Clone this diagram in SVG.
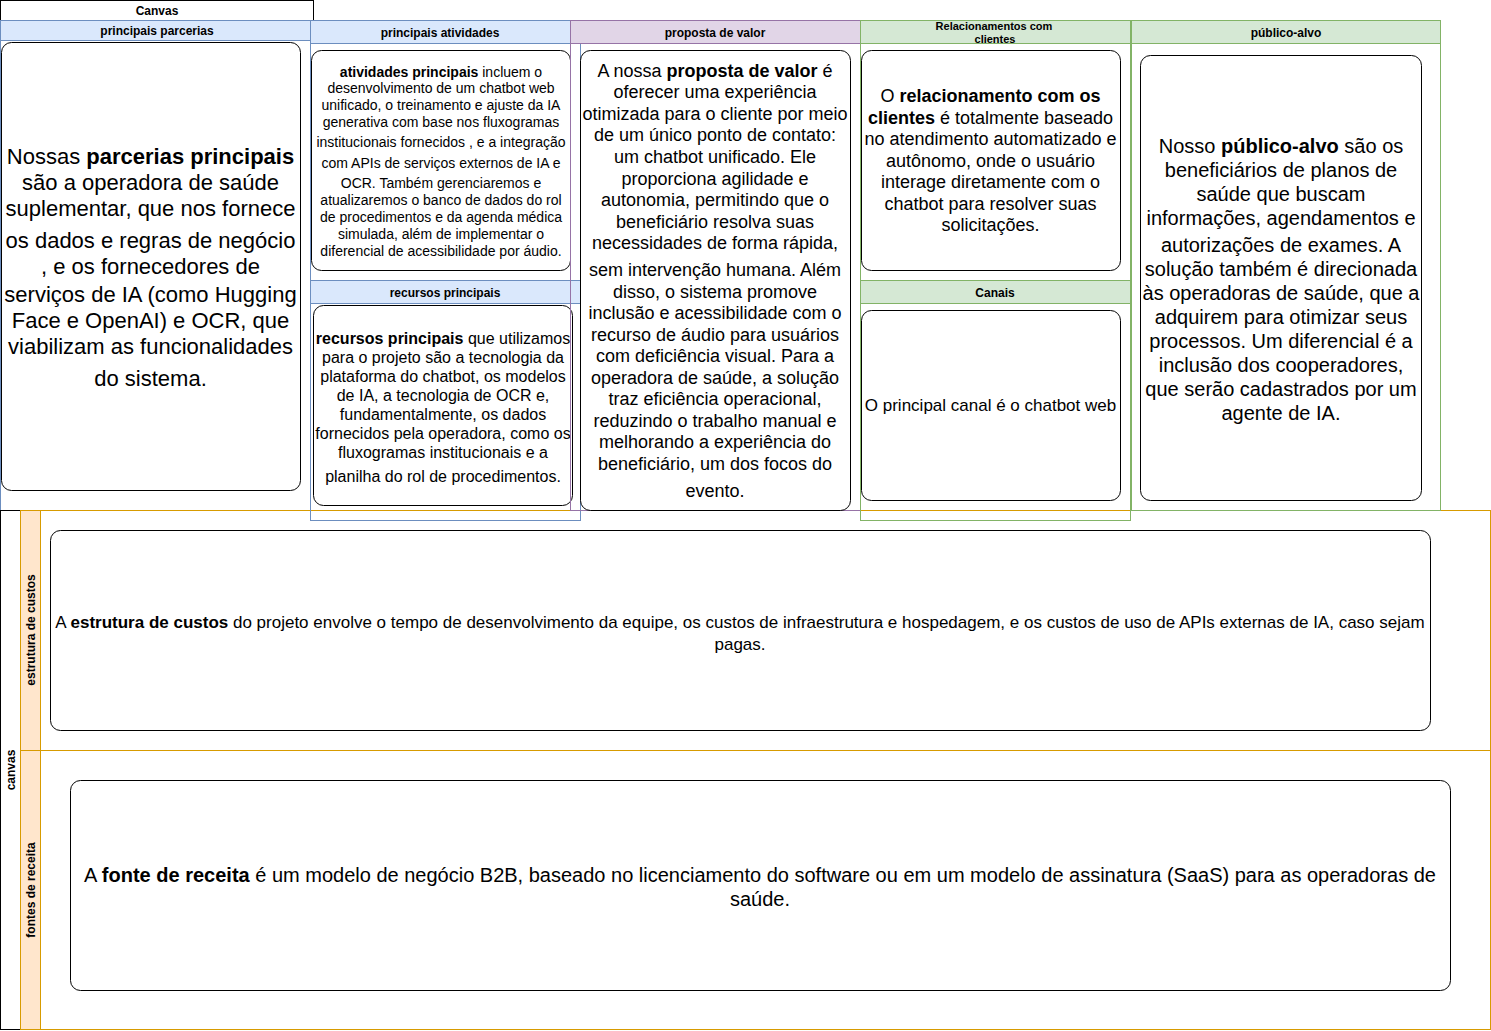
<svg xmlns="http://www.w3.org/2000/svg" width="1491" height="1031" viewBox="0 0 1491 1031">
<style>
text{font-family:"Liberation Sans",Arial,sans-serif;fill:#000;text-anchor:middle;dominant-baseline:central}
.hd{font-size:12px;font-weight:bold}
.hd11{font-size:11px;font-weight:bold}
.card{fill:#fff;stroke:#000;stroke-width:1}
.blue{fill:none;stroke:#6c8ebf}
.blueh{fill:#dae8fc;stroke:#6c8ebf}
.purp{fill:none;stroke:#9673a6}
.purph{fill:#e1d5e7;stroke:#9673a6}
.grn{fill:none;stroke:#82b366}
.grnh{fill:#d5e8d4;stroke:#82b366}
.org{fill:none;stroke:#d79b00}
.orgh{fill:#ffe6cc;stroke:#d79b00}
.b{font-weight:bold}
</style>
<rect width="1491" height="1031" fill="#fff"/>

<g id="canvas-title">
<rect x="0.5" y="0.5" width="313" height="20" fill="#fff" stroke="#000"/>
<text class="hd" x="157" y="10.5">Canvas</text>
</g>

<g id="parcerias">
<rect class="blue" x="0.5" y="20.5" width="310" height="490"/>
<rect class="blueh" x="0.5" y="20.5" width="310" height="20"/>
<text class="hd" x="157" y="30.5">principais parcerias</text>
<rect class="card" x="1.5" y="42.5" width="299" height="448" rx="10"/>
<g style="font-size:22px">
<text x="150.5" y="156">Nossas <tspan class="b">parcerias principais</tspan></text>
<text x="150.5" y="182">são a operadora de saúde</text>
<text x="150.5" y="208">suplementar, que nos fornece</text>
<text x="150.5" y="240">os dados e regras de negócio</text>
<text x="150.5" y="266">, e os fornecedores de</text>
<text x="150.5" y="294">serviços de IA (como Hugging</text>
<text x="150.5" y="320">Face e OpenAI) e OCR, que</text>
<text x="150.5" y="346">viabilizam as funcionalidades</text>
<text x="150.5" y="378">do sistema.</text>
</g>
</g>

<g id="canvas-bottom">
<rect x="0.5" y="510.5" width="1490" height="519" fill="#fff" stroke="#000"/>
<text class="hd" transform="translate(10.5,770) rotate(-90)">canvas</text>
<rect class="org" x="20.5" y="510.5" width="1470" height="240"/>
<rect class="orgh" x="20.5" y="510.5" width="20" height="240"/>
<text class="hd" transform="translate(31,630) rotate(-90)">estrutura de custos</text>
<rect class="org" x="20.5" y="750.5" width="1470" height="279"/>
<rect class="orgh" x="20.5" y="750.5" width="20" height="279"/>
<text class="hd" transform="translate(31,890) rotate(-90)">fontes de receita</text>
</g>

<g id="custos">
<rect class="card" x="50.5" y="530.5" width="1380" height="200" rx="10"/>
<g style="font-size:17px">
<text x="740" y="622">A <tspan class="b">estrutura de custos</tspan> do projeto envolve o tempo de desenvolvimento da equipe, os custos de infraestrutura e hospedagem, e os custos de uso de APIs externas de IA, caso sejam</text>
<text x="740" y="644">pagas.</text>
</g>
</g>

<g id="receita">
<rect class="card" x="70.5" y="780.5" width="1380" height="210" rx="10"/>
<g style="font-size:20px">
<text x="760" y="875">A <tspan class="b">fonte de receita</tspan> é um modelo de negócio B2B, baseado no licenciamento do software ou em um modelo de assinatura (SaaS) para as operadoras de</text>
<text x="760" y="899">saúde.</text>
</g>
</g>

<g id="atividades">
<rect class="blue" x="310.5" y="20.5" width="270" height="500"/>
<rect class="blueh" x="310.5" y="20.5" width="260" height="23"/>
<text class="hd" x="440" y="32.5">principais atividades</text>
<rect class="card" x="311.5" y="50.5" width="259" height="220" rx="10"/>
<g style="font-size:14px">
<text x="441" y="72"><tspan class="b">atividades principais</tspan> incluem o</text>
<text x="441" y="88">desenvolvimento de um chatbot web</text>
<text x="441" y="105">unificado, o treinamento e ajuste da IA</text>
<text x="441" y="122">generativa com base nos fluxogramas</text>
<text x="441" y="142">institucionais fornecidos , e a integração</text>
<text x="441" y="163">com APIs de serviços externos de IA e</text>
<text x="441" y="183">OCR. Também gerenciaremos e</text>
<text x="441" y="200">atualizaremos o banco de dados do rol</text>
<text x="441" y="217">de procedimentos e da agenda médica</text>
<text x="441" y="234">simulada, além de implementar o</text>
<text x="441" y="251">diferencial de acessibilidade por áudio.</text>
</g>
</g>

<g id="recursos">
<rect class="blueh" x="310.5" y="280.5" width="270" height="23"/>
<text class="hd" x="445" y="292.5">recursos principais</text>
<rect class="card" x="313.5" y="305.5" width="259" height="200" rx="10"/>
<g style="font-size:16px">
<text x="443" y="338"><tspan class="b">recursos principais</tspan> que utilizamos</text>
<text x="443" y="357">para o projeto são a tecnologia da</text>
<text x="443" y="376">plataforma do chatbot, os modelos</text>
<text x="443" y="395">de IA, a tecnologia de OCR e,</text>
<text x="443" y="414">fundamentalmente, os dados</text>
<text x="443" y="433">fornecidos pela operadora, como os</text>
<text x="443" y="452">fluxogramas institucionais e a</text>
<text x="443" y="476">planilha do rol de procedimentos.</text>
</g>
</g>

<g id="proposta">
<rect class="purp" x="570.5" y="20.5" width="290" height="490"/>
<rect class="purph" x="570.5" y="20.5" width="290" height="23"/>
<text class="hd" x="715" y="32.5">proposta de valor</text>
<rect class="card" x="580.5" y="50.5" width="270" height="460" rx="10"/>
<g style="font-size:18px">
<text x="715" y="71">A nossa <tspan class="b">proposta de valor</tspan> é</text>
<text x="715" y="92">oferecer uma experiência</text>
<text x="715" y="114">otimizada para o cliente por meio</text>
<text x="715" y="135">de um único ponto de contato:</text>
<text x="715" y="157">um chatbot unificado. Ele</text>
<text x="715" y="179">proporciona agilidade e</text>
<text x="715" y="200">autonomia, permitindo que o</text>
<text x="715" y="222">beneficiário resolva suas</text>
<text x="715" y="243">necessidades de forma rápida,</text>
<text x="715" y="270">sem intervenção humana. Além</text>
<text x="715" y="292">disso, o sistema promove</text>
<text x="715" y="313">inclusão e acessibilidade com o</text>
<text x="715" y="335">recurso de áudio para usuários</text>
<text x="715" y="356">com deficiência visual. Para a</text>
<text x="715" y="378">operadora de saúde, a solução</text>
<text x="715" y="399">traz eficiência operacional,</text>
<text x="715" y="421">reduzindo o trabalho manual e</text>
<text x="715" y="442">melhorando a experiência do</text>
<text x="715" y="464">beneficiário, um dos focos do</text>
<text x="715" y="491">evento.</text>
</g>
</g>

<g id="relacionamentos">
<rect class="grn" x="860.5" y="20.5" width="270" height="500"/>
<rect class="grnh" x="860.5" y="20.5" width="270" height="23"/>
<text class="hd11" x="994" y="26">Relacionamentos com</text>
<text class="hd11" x="995" y="39">clientes</text>
<rect class="card" x="861.5" y="50.5" width="259" height="220" rx="10"/>
<g style="font-size:18px">
<text x="990.5" y="96">O <tspan class="b">relacionamento com os</tspan></text>
<text x="990.5" y="118"><tspan class="b">clientes</tspan> é totalmente baseado</text>
<text x="990.5" y="139">no atendimento automatizado e</text>
<text x="990.5" y="161">autônomo, onde o usuário</text>
<text x="990.5" y="182">interage diretamente com o</text>
<text x="990.5" y="204">chatbot para resolver suas</text>
<text x="990.5" y="225">solicitações.</text>
</g>
</g>

<g id="canais">
<rect class="grnh" x="860.5" y="280.5" width="270" height="23"/>
<text class="hd" x="995" y="292.5">Canais</text>
<rect class="card" x="861.5" y="310.5" width="259" height="190" rx="10"/>
<text x="990.5" y="405" style="font-size:17px">O principal canal é o chatbot web</text>
</g>

<g id="publico">
<rect class="grn" x="1131.5" y="20.5" width="309" height="490"/>
<rect class="grnh" x="1131.5" y="20.5" width="309" height="23"/>
<text class="hd" x="1286" y="32.5">público-alvo</text>
<rect class="card" x="1140.5" y="55.5" width="281" height="445" rx="10"/>
<g style="font-size:20px">
<text x="1281" y="146">Nosso <tspan class="b">público-alvo</tspan> são os</text>
<text x="1281" y="170">beneficiários de planos de</text>
<text x="1281" y="194">saúde que buscam</text>
<text x="1281" y="218">informações, agendamentos e</text>
<text x="1281" y="245">autorizações de exames. A</text>
<text x="1281" y="269">solução também é direcionada</text>
<text x="1281" y="293">às operadoras de saúde, que a</text>
<text x="1281" y="317">adquirem para otimizar seus</text>
<text x="1281" y="341">processos. Um diferencial é a</text>
<text x="1281" y="365">inclusão dos cooperadores,</text>
<text x="1281" y="389">que serão cadastrados por um</text>
<text x="1281" y="413">agente de IA.</text>
</g>
</g>

<g id="connectors"></g>
</svg>
